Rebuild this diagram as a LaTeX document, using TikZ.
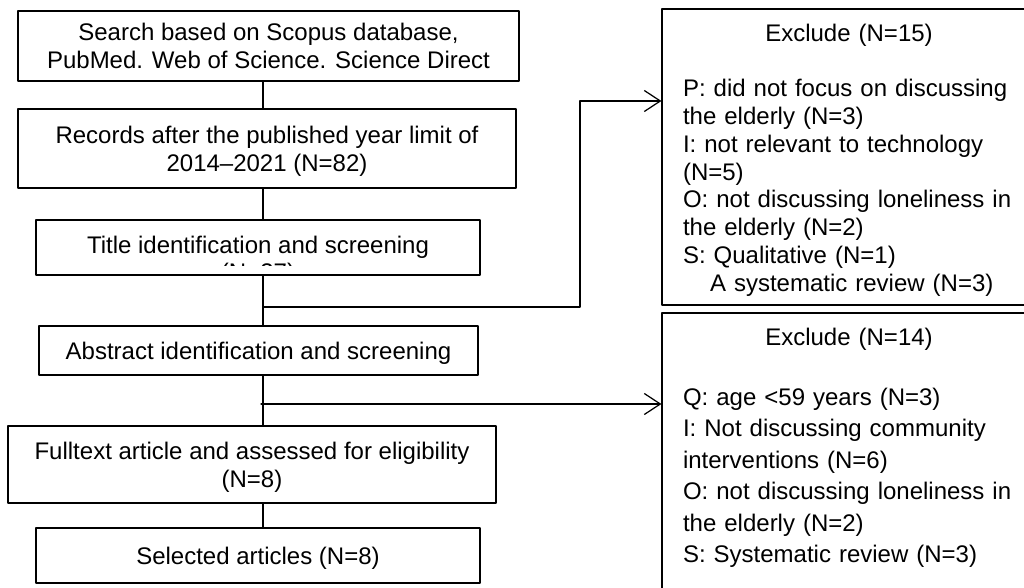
\documentclass[tikz,border=0pt]{standalone}
\usepackage{fontspec}
\setmainfont{Liberation Sans}
\usepackage{tikz}
\usetikzlibrary{arrows.meta,calc}
\tikzset{box/.style={draw,line width=0.7pt,inner sep=0pt,align=center,text depth=0pt,
    font=\fontsize{13.66pt}{15.9pt}\selectfont}}
\tikzset{exbox/.style={draw,line width=0.7pt,inner xsep=0.42cm,inner ysep=0pt,
    text width=6.64cm,minimum width=7.48cm,align=left}}
\newcommand{\ctr}[1]{\makebox[\linewidth]{#1}}

\begin{document}
\begin{tikzpicture}[line cap=round,line join=round,x=0.02cm,y=-0.02cm,
    >={Straight Barb[length=0.32cm,width=0.42cm]}]
		\useasboundingbox (0,0) rectangle (1024,588);
		\clip (0,0) rectangle (1024,588);
		\node[box,minimum width=10.02cm,minimum height=1.4cm] (search) at (268.5,46) {Search based on Scopus database,\\PubMed. Web of Science. Science Direct};
		\node[box,minimum width=9.96cm,minimum height=1.58cm] (records) at (267,148.5) {Records after the published year limit of\\2014--2021 (N=82)};
		\node[box,minimum width=8.88cm,minimum height=1.1cm,
		  path picture={\clip ([yshift=0.18cm]path picture bounding box.south west) rectangle (path picture bounding box.north east);
		  \node[anchor=base,align=center,font=\fontsize{13.66pt}{15.9pt}\selectfont] at ($(path picture bounding box.north)+(0,-1.22cm)$) {Title identification and screening\\(N=37)};}] (title) at (258,247.5) {};
		\node[box,minimum width=8.78cm,minimum height=0.98cm] (abstract) at (258.5,350.5) {Abstract identification and screening};
		\node[box,minimum width=9.76cm,minimum height=1.54cm] (fulltext) at (252,464.5) {Fulltext article and assessed for eligibility\\(N=8)};
		\node[box,minimum width=8.88cm,minimum height=1.1cm] (selected) at (258,555.5) {Selected articles (N=8)};
		\node[exbox,minimum height=5.92cm,font=\fontsize{13.66pt}{15.8pt}\selectfont] (exclude1) at (849,157) {\\[-0.09cm]\ctr{Exclude (N=15)}\\[15.8pt]
		  P: did not focus on discussing\\the elderly (N=3)\\I: not relevant to technology\\(N=5)\\
		  O: not discussing loneliness in\\the elderly (N=2)\\S: Qualitative (N=1)\\\hspace*{0.54cm}A systematic review (N=3)};
		\node[exbox,minimum height=6cm,font=\fontsize{13.66pt}{17.9pt}\selectfont] (exclude2) at (849,463) {\ctr{Exclude (N=14)}\\[16pt]
		  Q: age <59 years (N=3)\\I: Not discussing community\\interventions (N=6)\\
		  O: not discussing loneliness in\\the elderly (N=2)\\S: Systematic review (N=3)\\[0.07cm]\mbox{}};
		\coordinate (trunk) at (263,0);
		\coordinate (k1) at (263,307);
		\coordinate (h1) at (580,101);
		\coordinate (k2) at (261,404);
		\draw[line width=0.7pt] (search.south -| trunk) -- (records.north -| trunk);
		\draw[line width=0.7pt] (records.south -| trunk) -- (title.north -| trunk);
		\draw[line width=0.7pt] (title.south -| trunk) -- (abstract.north -| trunk);
		\draw[line width=0.7pt] (abstract.south -| trunk) -- (fulltext.north -| trunk);
		\draw[line width=0.7pt] (fulltext.south -| trunk) -- (selected.north -| trunk);
		\draw[->,line width=0.7pt] (k1) -| (h1) -- (h1 -| exclude1.west);
		\draw[->,line width=0.7pt] (k2) -- (k2 -| exclude2.west);
\end{tikzpicture}
\end{document}
